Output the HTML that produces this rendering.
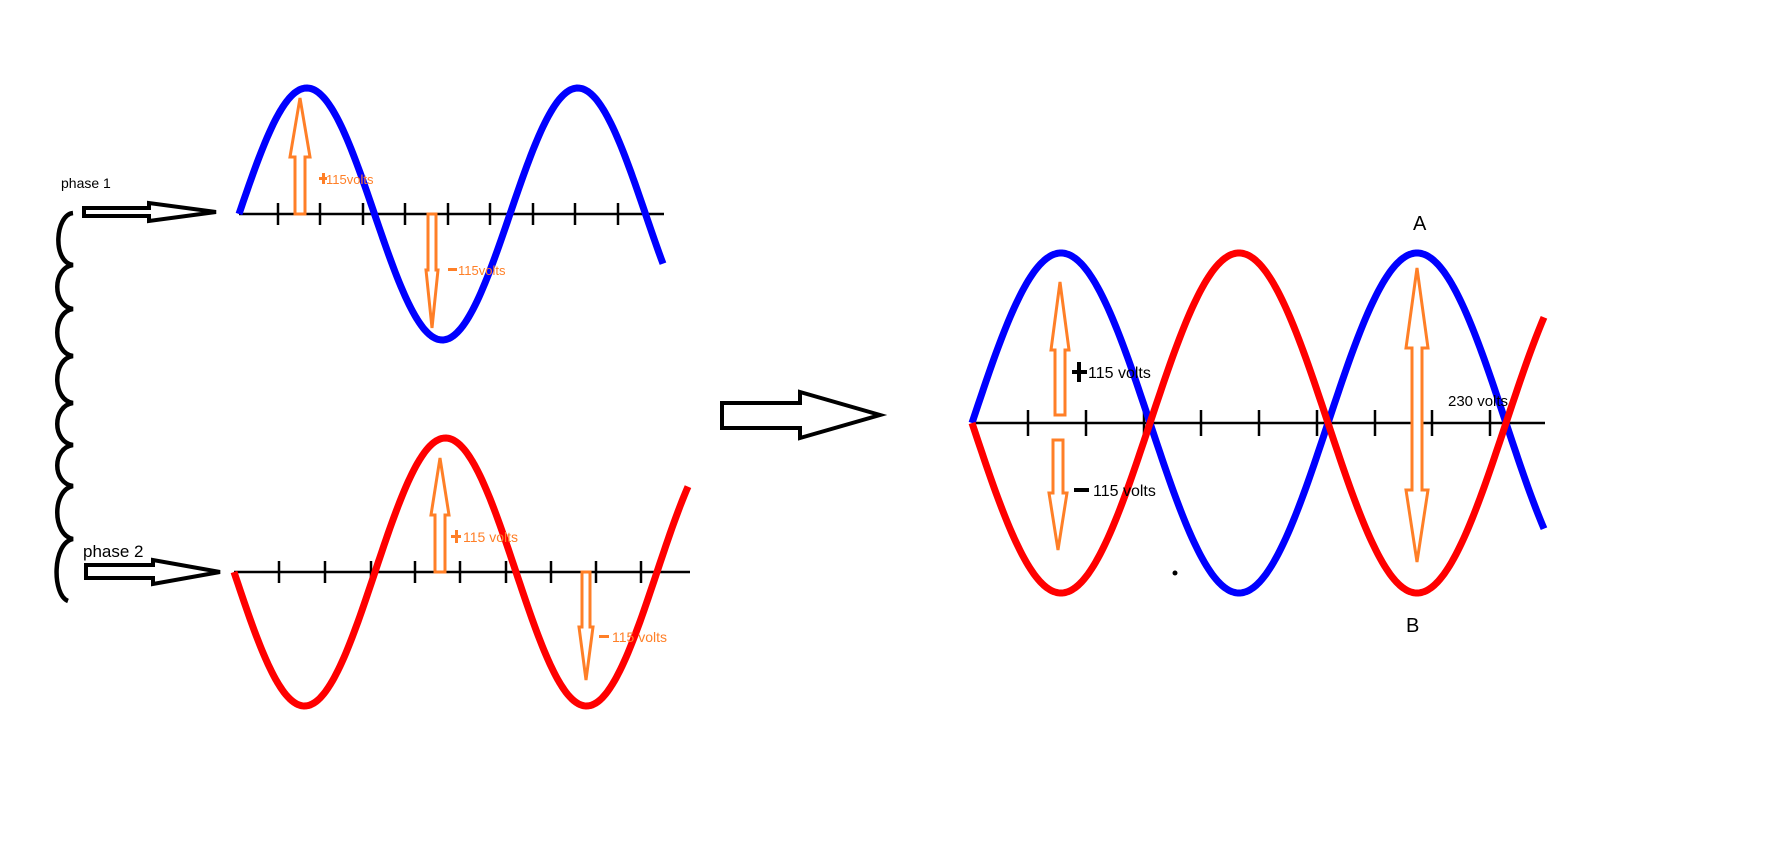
<!DOCTYPE html>
<html><head><meta charset="utf-8"><style>
html,body{margin:0;padding:0;background:#fff;width:1792px;height:855px;overflow:hidden}
svg{display:block}
text{font-family:"Liberation Sans",sans-serif}
</style></head><body>
<svg id="s" width="1792" height="855" xmlns="http://www.w3.org/2000/svg">
<path d="M73,213 C55,215 52,262 73,265 C52,268 52,306 73,309 C52,312 52,353 73,356 C52,359 52,400 73,403 C52,406 52,442 73,445 C52,448 52,483 73,486 C52,490 52,535 73,539 C52,543 52,595 68,601" fill="none" stroke="#000" stroke-width="4.5"/>
<text x="61" y="188" font-size="14">phase 1</text>
<text x="83" y="557" font-size="17">phase 2</text>
<polygon points="84,208 149,208 149,203 216,212 149,221 149,216 84,216" fill="#fff" stroke="#000" stroke-width="4"/>
<polygon points="86,565 153,565 153,560 220,572 153,584 153,578 86,578" fill="#fff" stroke="#000" stroke-width="4"/>
<polygon points="722,403 800,403 800,392 880,415 800,438 800,428 722,428" fill="#fff" stroke="#000" stroke-width="4"/>
<g id="axes" stroke="#000" stroke-width="2.5"></g>
<g id="waves" fill="none" stroke-width="7" stroke-linejoin="round"></g>
<g id="orange" fill="#fff" stroke="#ff7f27" stroke-width="3"></g>
<g font-size="13" fill="#ff7f27">
<text x="326" y="184">115volts</text>
<rect x="319" y="177" width="8" height="3" stroke="none"/><rect x="322" y="173" width="3" height="11" stroke="none"/>
<text x="458" y="275">115volts</text>
<rect x="448" y="268" width="9" height="3"/>
<text x="463" y="542" font-size="14">115 volts</text>
<rect x="451" y="535" width="10" height="3"/><rect x="455" y="530" width="3" height="13"/>
<text x="612" y="642" font-size="14">115 volts</text>
<rect x="599" y="635" width="10" height="3"/>
</g>
<g font-size="16" fill="#000">
<text x="1088" y="378">115 volts</text>
<rect x="1072" y="370" width="15" height="4"/><rect x="1077" y="362" width="4" height="20"/>
<text x="1093" y="496">115 volts</text>
<rect x="1074" y="488" width="15" height="4"/>
<text x="1448" y="406" font-size="15">230 volts</text>
<text x="1413" y="230" font-size="20">A</text>
<text x="1406" y="632" font-size="20">B</text>
<circle cx="1175" cy="573" r="2.5"/>
</g>
</svg>
<script>
var NS="http://www.w3.org/2000/svg";
function el(p,t,a){var e=document.createElementNS(NS,t);for(var k in a)e.setAttribute(k,a[k]);document.getElementById(p).appendChild(e);}
function sine(x0,x1,y0,amp,period,sign,col){var d="";for(var x=x0;x<=x1;x+=2){var y=y0-sign*amp*Math.sin(2*Math.PI*(x-x0)/period);d+=(d?"L":"M")+x+","+y.toFixed(1);}el("waves","path",{d:d,stroke:col});}
function axis(x0,x1,y,ticks,h){el("axes","line",{x1:x0,y1:y,x2:x1,y2:y});ticks.forEach(function(t){el("axes","line",{x1:t,y1:y-h,x2:t,y2:y+h});});}
axis(239,664,214,[278,320,363,405,448,490,533,575,618],11);
axis(234,690,572,[279,325,371,415,460,506,551,596,641],11);
axis(972,1545,423,[1028,1086,1144,1201,1259,1317,1375,1432,1490],13);
sine(239,664,214,126,271,1,"#0000ff");
sine(234,688,572,134,282,-1,"#ff0000");
sine(972,1545,423,170,356,1,"#0000ff");
sine(972,1545,423,170,356,-1,"#ff0000");
function pts(a){var s=[];for(var i=0;i<a.length;i+=2)s.push(a[i]+","+a[i+1]);return s.join(" ");}
function arr(x,yb,yh,yt,sw,hw){el("orange","polygon",{points:pts([x-sw,yb,x-sw,yh,x-hw,yh,x,yt,x+hw,yh,x+sw,yh,x+sw,yb])});}
arr(300,214,157,98,5,10);
arr(432,214,270,328,4,6);
arr(440,572,515,458,5,9);
arr(586,572,627,680,4,7);
arr(1060,415,350,282,5,9);
arr(1058,440,493,550,5,9);
el("orange","polygon",{points:pts([1412,490,1406,490,1417,562,1428,490,1422,490,1422,348,1428,348,1417,268,1406,348,1412,348])});
</script>
</body></html>
